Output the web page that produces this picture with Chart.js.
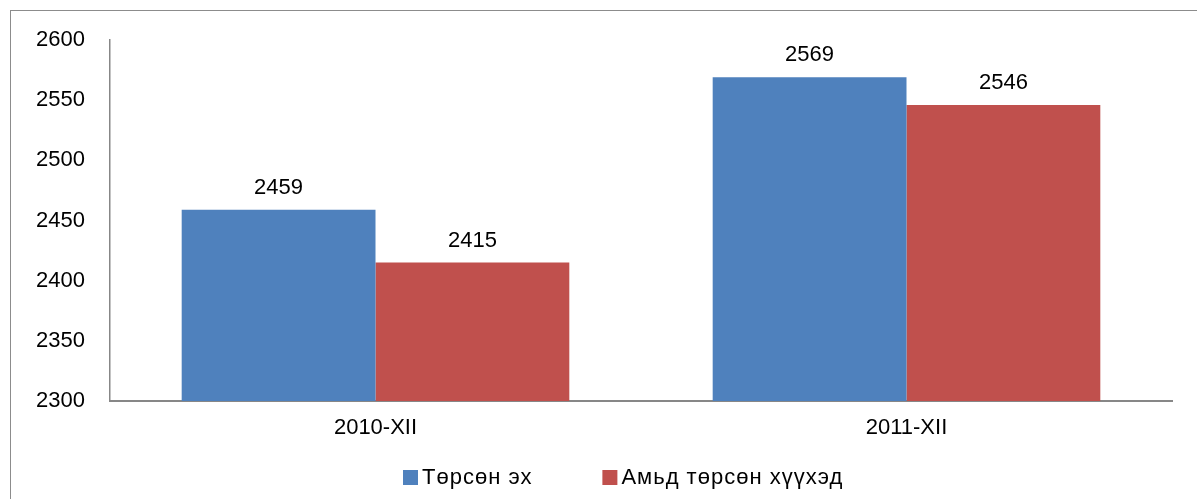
<!DOCTYPE html>
<html>
<head>
<meta charset="utf-8">
<script src="https://cdn.jsdelivr.net/npm/chart.js@4"></script>
<style>
  html, body { margin: 0; padding: 0; background: #fff; }
  #wrap { position: relative; width: 1197px; height: 499px; }
  #frame { position: absolute; left: 10px; top: 10px; right: -5px; bottom: -5px;
           border-left: 1.5px solid #8c8c8c; border-top: 1.5px solid #8c8c8c; pointer-events: none; }
  canvas { position: absolute; left: 0; top: 0; }
</style>
</head>
<body>
<div id="wrap">
  <canvas id="grafica" width="1197" height="499"></canvas>
  <div id="frame"></div>
</div>
<script>
// Datos del gráfico
const categorias = ["2010-XII", "2011-XII"];
const seriesNombres = ["Төрсөн эх", "Амьд төрсөн хүүхэд"];
const torsonEh = [2459, 2569];
const amidTorson = [2415, 2546];
const ticksY = [2300, 2350, 2400, 2450, 2500, 2550, 2600];

const colores = ["#4f81bd", "#c0504d"];
const fuente = "'Liberation Sans', Arial, sans-serif";

// Etiquetas de valores encima de las barras + leyenda propia
const extras = {
    id: "extras",
    afterDatasetsDraw(chart) {
        const ctx = chart.ctx;
        ctx.save();
        ctx.font = "22px " + fuente;
        ctx.fillStyle = "#000";
        ctx.textAlign = "center";
        ctx.textBaseline = "bottom";
        chart.data.datasets.forEach((ds, i) => {
            chart.getDatasetMeta(i).data.forEach((bar, j) => {
                ctx.fillText(String(ds.data[j]), bar.x, bar.y - 11);
            });
        });

        // leyenda
        ctx.textAlign = "left";
        ctx.textBaseline = "middle";
        ctx.letterSpacing = "1px";
        const y = 477;
        let x = 403;
        chart.data.datasets.forEach((ds, i) => {
            ctx.fillStyle = ds.backgroundColor;
            ctx.fillRect(x, y - 7, 15, 15);
            ctx.fillStyle = "#000";
            ctx.fillText(ds.label, x + 19, y + 1);
            x += 19 + ctx.measureText(ds.label).width + 70;
        });
        ctx.restore();
    }
};

new Chart(document.getElementById("grafica"), {
    type: "bar",
    data: {
        labels: categorias,
        datasets: [
            { label: seriesNombres[0], data: torsonEh, backgroundColor: colores[0] },
            { label: seriesNombres[1], data: amidTorson, backgroundColor: colores[1] }
        ]
    },
    options: {
        responsive: false,
        animation: false,
        layout: { padding: { left: 36, top: 40, right: 25, bottom: 0 } },
        datasets: { bar: { categoryPercentage: 0.73, barPercentage: 1.0 } },
        plugins: {
            legend: { display: false },
            tooltip: { enabled: false }
        },
        scales: {
            x: {
                grid: { display: false, drawTicks: false },
                border: { color: "#878787", width: 2 },
                ticks: { color: "#000", font: { size: 22, family: fuente }, padding: 14 },
                afterFit(scale) { scale.height = 98; }
            },
            y: {
                min: 2300,
                max: 2600,
                grid: { display: false, drawTicks: false },
                border: { color: "#878787", width: 1.5 },
                afterBuildTicks(scale) { scale.ticks = ticksY.map(v => ({ value: v })); },
                ticks: {
                    color: "#000",
                    crossAlign: "far",
                    font: { size: 22, family: fuente },
                    callback: v => String(v)
                },
                afterFit(scale) { scale.width = 74; }
            }
        }
    },
    plugins: [extras]
});
</script>
</body>
</html>
